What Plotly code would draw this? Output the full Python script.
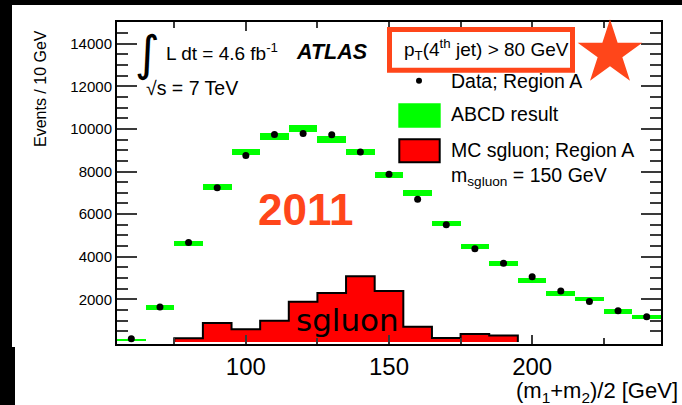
import numpy as np
import plotly.graph_objects as go

# ---- data -------------------------------------------------------------
bin_centers = [60, 70, 80, 90, 100, 110, 120, 130, 140, 150,
               160, 170, 180, 190, 200, 210, 220, 230, 240]
data_region_a = [155, 1640, 4670, 7235, 8750, 9735, 9780, 9720, 8920, 7875,
                 6700, 5500, 4375, 3700, 3065, 2390, 1905, 1470, 1190]
abcd_result = [80, 1625, 4625, 7280, 8905, 9640, 10015, 9500, 8920, 7845,
               7000, 5560, 4485, 3670, 2905, 2265, 2015, 1440, 1170]
abcd_error = [20, 100, 120, 140, 140, 150, 150, 150, 140, 130,
              130, 120, 115, 115, 115, 110, 110, 105, 105]

sgluon_edges = [75, 85, 95, 105, 115, 125, 135, 145, 155, 165, 175, 185, 195]
sgluon_counts = [175, 890, 595, 1000, 1890, 2300, 3080, 2390, 715, 190, 375, 300]

x_tick_vals = [100, 150, 200]
x_tick_text = ["100", "150", "200"]
y_tick_vals = [2000, 4000, 6000, 8000, 10000, 12000, 14000]
y_tick_text = ["2000", "4000", "6000", "8000", "10000", "12000", "14000"]

# ---- geometry helpers -------------------------------------------------
FIG_W, FIG_H = 682, 405
PL, PT, PR, PB = 117, 22, 21, 61
PW, PH = FIG_W - PL - PR, FIG_H - PT - PB


def px(x):
    return (x - PL) / PW


def py(y):
    return 1 - (y - PT) / PH


FONT = "Liberation Sans, Arial, sans-serif"
ACCENT = "#FF461A"
GREEN = "#00FF00"
RED = "#FF0000"

fig = go.Figure()

# sgluon MC histogram (stepped outline, red fill)
step_x = [sgluon_edges[0]] + sgluon_edges + [sgluon_edges[-1]]
step_y = [0] + sgluon_counts + [sgluon_counts[-1], 0]
fig.add_trace(go.Scatter(
    x=step_x, y=step_y, mode="lines", line=dict(shape="hv", color="black", width=2),
    fill="tozeroy", fillcolor=RED, hoverinfo="skip", showlegend=False))

# ABCD estimate as green error boxes
abcd = np.array(abcd_result, dtype=float)
err = np.array(abcd_error, dtype=float)
fig.add_trace(go.Bar(
    x=bin_centers, y=2 * err, base=abcd - err, width=10,
    marker=dict(color=GREEN, line=dict(width=0)), showlegend=False))

# data points
fig.add_trace(go.Scatter(
    x=bin_centers, y=data_region_a, mode="markers",
    marker=dict(color="black", size=7), showlegend=False))

tick_col = "#3a3a3a"
fig.update_xaxes(
    range=[55, 245], showgrid=False, zeroline=False,
    showline=True, linecolor="black", linewidth=2, mirror="ticks",
    tickmode="array", tickvals=x_tick_vals, ticktext=x_tick_text,
    ticks="inside", ticklen=9, tickwidth=1.5, tickcolor=tick_col,
    tickfont=dict(family=FONT, size=24, color="black"),
    minor=dict(tickmode="array", tickvals=[75, 125, 175, 225], ticks="inside",
               ticklen=6, tickwidth=1.5, tickcolor=tick_col, showgrid=False),
)
fig.update_yaxes(
    range=[-94, 15016], showgrid=False, zeroline=False,
    showline=True, linecolor="black", linewidth=2, mirror="ticks",
    tickmode="array", tickvals=y_tick_vals, ticktext=y_tick_text,
    ticks="inside", ticklen=20, tickwidth=1.5, tickcolor=tick_col,
    tickfont=dict(family=FONT, size=15, color="black"),
    minor=dict(tickmode="array",
               tickvals=[v for v in range(500, 15000, 500) if v % 2000],
               ticks="inside", ticklen=11, tickwidth=1.5, tickcolor=tick_col,
               showgrid=False),
)

shapes = []
# dark frame bands
for x0, y0, x1, y1 in [(0, 0, 682, 5), (0, 0, 12, 347), (0, 347, 15, 405)]:
    shapes.append(dict(type="rect", xref="paper", yref="paper",
                       x0=px(x0), x1=px(x1), y0=py(y1), y1=py(y0),
                       fillcolor="black", line=dict(width=0), layer="above"))

# box around the jet-pT cut label
shapes.append(dict(type="rect", xref="paper", yref="paper",
                   x0=px(389.5), x1=px(572.5), y0=py(70.2), y1=py(29.4),
                   line=dict(color=ACCENT, width=5), fillcolor="rgba(0,0,0,0)",
                   layer="above"))

# star
cx, cy, R = 610, 53.3, 34
r_in = R * 0.382
pts = []
for k in range(10):
    ang = np.pi / 2 + k * np.pi / 5
    rad = R if k % 2 == 0 else r_in
    pts.append((px(cx + rad * np.cos(ang)), py(cy - rad * np.sin(ang))))
path = "M " + " L ".join(f"{a:.5f},{b:.5f}" for a, b in pts) + " Z"
shapes.append(dict(type="path", xref="paper", yref="paper", path=path,
                   fillcolor=ACCENT, line=dict(width=0), layer="above"))

# legend symbols
shapes.append(dict(type="circle", xref="paper", yref="paper",
                   x0=px(416), x1=px(422), y0=py(83.7), y1=py(77.7),
                   fillcolor="black", line=dict(width=0), layer="above"))
shapes.append(dict(type="rect", xref="paper", yref="paper",
                   x0=px(398.3), x1=px(440.7), y0=py(127.7), y1=py(103.3),
                   fillcolor=GREEN, line=dict(width=0), layer="above"))
shapes.append(dict(type="rect", xref="paper", yref="paper",
                   x0=px(399.3), x1=px(439.7), y0=py(162.3), y1=py(139.3),
                   fillcolor=RED, line=dict(color="black", width=2), layer="above"))

fig.update_layout(shapes=shapes)


def label(text, x, y, size, xanchor="left", yanchor="middle", color="black",
          family=FONT, angle=0):
    fig.add_annotation(text=text, x=px(x), y=py(y), xref="paper", yref="paper",
                       xanchor=xanchor, yanchor=yanchor, showarrow=False,
                       textangle=angle, align="left",
                       font=dict(family=family, size=size, color=color))


label("Events / 10 GeV", 40, 89, 16, xanchor="center", angle=-90)
label("(m<sub>1</sub>+m<sub>2</sub>)/2 [GeV]", 680, 392, 22, xanchor="right")

label("\u222B", 147, 53, 48, xanchor="center", family="DejaVu Sans")
label("L dt = 4.6 fb<sup>-1</sup>", 164, 52, 19)
label("\u221As = 7 TeV", 144, 88, 19.5)
label("<b><i>ATLAS</i></b>", 294, 52, 21.5)
label("p<sub>T</sub>(4<sup>th</sup> jet) > 80 GeV", 402, 50, 19)

label("Data; Region A", 449, 81, 19.5)
label("ABCD result", 449, 114, 19.5)
label("MC sgluon; Region A", 449, 150, 19.5)
label("m<sub>sgluon</sub> = 150 GeV", 449, 176, 19.5)

label("<b>2011</b>", 305, 209, 44, xanchor="center", color=ACCENT)
label("sgluon", 347, 320, 31, xanchor="center", family="DejaVu Sans")

fig.update_layout(
    width=FIG_W, height=FIG_H,
    margin=dict(l=PL, r=PR, t=PT, b=PB, autoexpand=False),
    paper_bgcolor="white", plot_bgcolor="white",
    barmode="overlay", bargap=0, showlegend=False,
)

fig.write_html("out.html")
